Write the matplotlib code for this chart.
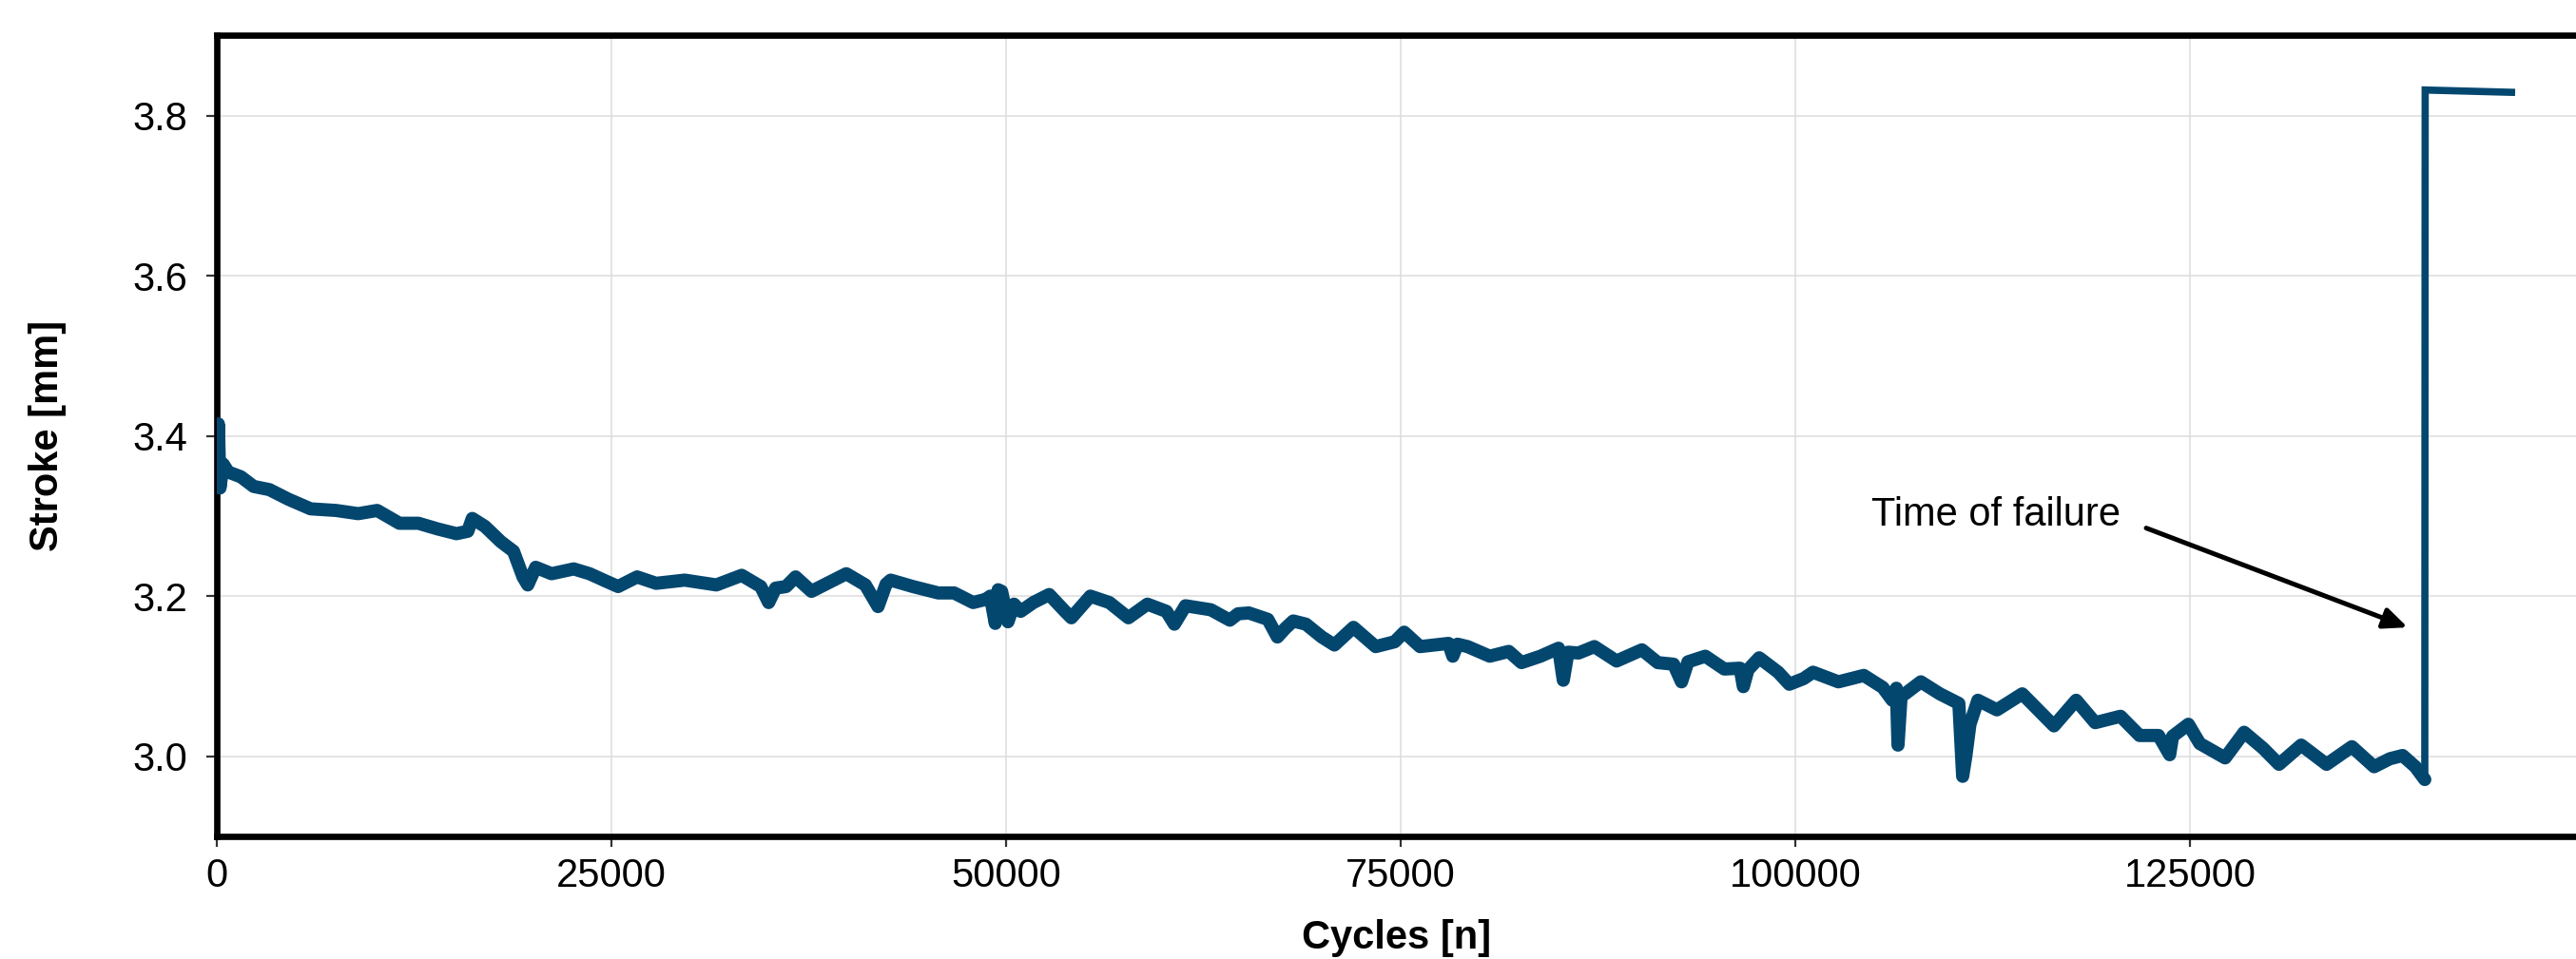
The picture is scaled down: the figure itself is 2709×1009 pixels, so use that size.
import matplotlib
matplotlib.use("Agg")
import matplotlib.pyplot as plt

# stroke readings (cycles, mm)
cycles = [0, 100, 200, 400, 723, 1526, 2330, 3333, 4538, 5944, 7550, 8956,
          10161, 11566, 12771, 13976, 15181, 15900, 16185, 16988, 17992,
          18795, 19398, 19700, 20201, 21205, 22610, 23614, 24618, 25421,
          26626, 27831, 29638, 31646, 33252, 34457, 34959, 35400, 36064,
          36666, 37670, 38875, 39879, 41084, 41887, 42400, 42690, 44096,
          45702, 46706, 47911, 48714, 49000, 49316, 49500, 49718, 50120,
          50500, 50923, 51726, 52730, 53734, 54136, 55341, 56545, 57750,
          58955, 60160, 60662, 61365, 62971, 64176, 64700, 65381, 66585,
          67188, 67700, 68192, 68995, 69999, 70802, 72007, 73413, 74617,
          75220, 76224, 78031, 78300, 78600, 79236, 80642, 81846, 82649,
          83854, 85000, 85300, 85600, 86264, 87268, 88674, 90280, 91284,
          92288, 92790, 93200, 94296, 95501, 96500, 96706, 97000, 97710,
          98914, 99617, 100521, 101122, 102729, 104335, 105540, 106142,
          106400, 106504, 106700, 106946, 107950, 109154, 110359, 110600,
          110800, 111062, 111564, 112769, 114375, 115379, 116383, 117789,
          118994, 120600, 121805, 123010, 123713, 123900, 124900, 125620,
          127226, 128431, 129636, 130640, 132046, 133652, 135258, 136664,
          137668, 138471, 139274, 139876, 139900, 145600]
stroke = [3.360, 3.415, 3.335, 3.365, 3.355, 3.349, 3.337, 3.333, 3.321,
          3.309, 3.307, 3.303, 3.307, 3.291, 3.291, 3.284, 3.278, 3.281,
          3.297, 3.287, 3.268, 3.256, 3.224, 3.214, 3.236, 3.228, 3.234,
          3.228, 3.219, 3.212, 3.224, 3.216, 3.220, 3.214, 3.226, 3.212,
          3.192, 3.210, 3.212, 3.224, 3.206, 3.218, 3.228, 3.214, 3.187,
          3.215, 3.220, 3.212, 3.204, 3.204, 3.192, 3.196, 3.200, 3.166,
          3.208, 3.206, 3.168, 3.190, 3.181, 3.192, 3.202, 3.181, 3.173,
          3.200, 3.192, 3.173, 3.190, 3.181, 3.165, 3.188, 3.183, 3.170,
          3.178, 3.179, 3.171, 3.149, 3.160, 3.169, 3.165, 3.149, 3.139,
          3.161, 3.137, 3.143, 3.155, 3.137, 3.141, 3.125, 3.140, 3.137,
          3.125, 3.131, 3.117, 3.125, 3.135, 3.095, 3.130, 3.129, 3.137,
          3.119, 3.133, 3.117, 3.115, 3.093, 3.118, 3.125, 3.109, 3.110,
          3.087, 3.108, 3.123, 3.105, 3.090, 3.097, 3.105, 3.093, 3.101,
          3.086, 3.070, 3.085, 3.014, 3.075, 3.078, 3.093, 3.078, 3.066,
          2.975, 3.000, 3.040, 3.070, 3.058, 3.078, 3.058, 3.038, 3.070,
          3.042, 3.050, 3.026, 3.026, 3.002, 3.025, 3.040, 3.016, 2.998,
          3.030, 3.010, 2.990, 3.014, 2.990, 3.012, 2.987, 2.997, 3.001,
          2.987, 2.971, 3.832, 3.829]

x_ticks = [0, 25000, 50000, 75000, 100000, 125000]
y_ticks = [3.0, 3.2, 3.4, 3.6, 3.8]

plt.rcParams["font.family"] = ["Liberation Sans", "DejaVu Sans"]

W, H = 2709, 1009
fig = plt.figure(figsize=(W / 100, H / 100), dpi=100)
left, bottom, top = 228, 880, 37.4  # pixel positions of the axes box
ax = fig.add_axes([left / W, 1 - bottom / H, 1 - left / W, (bottom - top) / H])

line_color = "#03476F"
fail = cycles.index(139900)  # first reading after failure
# noisy pre-failure record drawn as a wider band, the jump after it thinner
ax.plot(cycles[:fail], stroke[:fail], color=line_color, lw=10,
        solid_joinstyle="round", solid_capstyle="round", zorder=3)
ax.plot(cycles[fail - 1:], stroke[fail - 1:], color=line_color, lw=5.5,
        solid_joinstyle="miter", solid_capstyle="butt", zorder=3)

ax.set_xlim(0, 149455)
ax.set_ylim(2.9, 3.9)
ax.set_xticks(x_ticks)
ax.set_yticks(y_ticks)
ax.set_yticklabels([f"{v:.1f}" for v in y_ticks])
ax.grid(True, color="#DCDCDC", lw=1.1)
ax.set_axisbelow(True)

for side in ["left", "top", "bottom"]:
    ax.spines[side].set_linewidth(4.8)
    ax.spines[side].set_color("black")
ax.spines["right"].set_visible(False)

ax.tick_params(axis="both", labelsize=30, length=8, width=1.6,
               color="#333333", labelcolor="black")
ax.tick_params(axis="x", pad=8)
ax.tick_params(axis="y", pad=14)

ax.set_xlabel("Cycles [n]", fontsize=30, fontweight="bold")
ax.set_ylabel("Stroke [mm]", fontsize=30, fontweight="bold")
ax.xaxis.set_label_coords(0.5, -0.103)
ax.yaxis.set_label_coords(-0.0637, 0.5)

# failure annotation
ax.text(104800, 3.288, "Time of failure", fontsize=30, ha="left", va="baseline")
ax.annotate("", xy=(138793, 3.161), xytext=(122227, 3.285),
            arrowprops=dict(arrowstyle="-|>,head_length=0.5,head_width=0.22",
                            mutation_scale=30, lw=3.6, color="black",
                            shrinkA=0, shrinkB=0))

fig.savefig("out.png", dpi=100)
